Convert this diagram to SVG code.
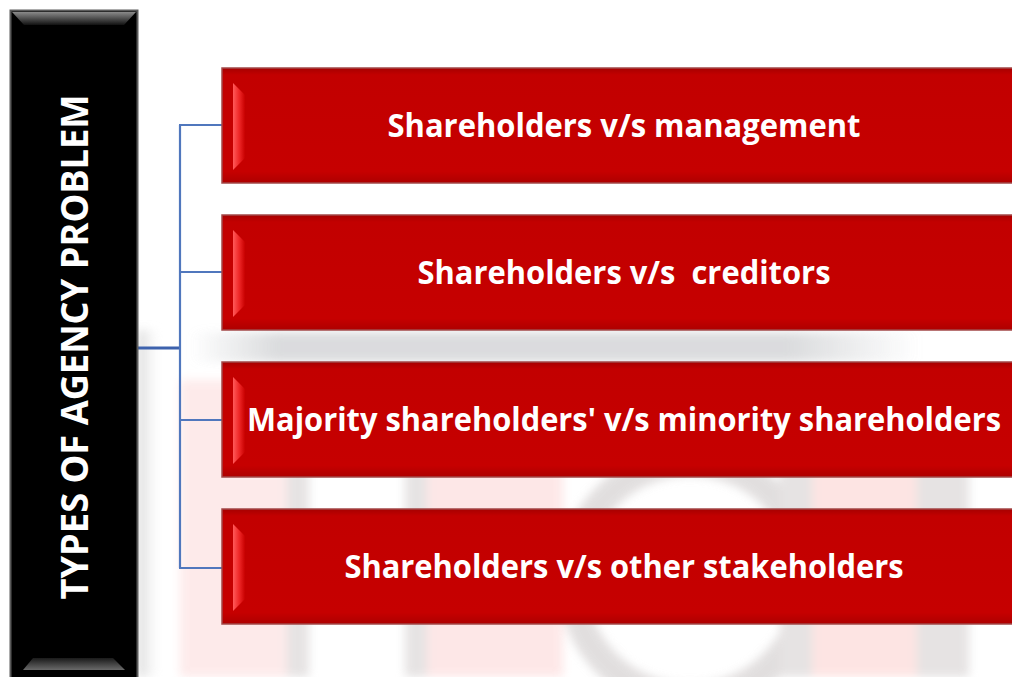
<svg xmlns="http://www.w3.org/2000/svg" width="1012" height="677" viewBox="0 0 1012 677">
  <defs>
    <style>
      .label { font-family: "Open Sans", "Liberation Sans", sans-serif; font-weight: 700; fill: #ffffff; text-anchor: middle; }
      .item { font-size: 33px; }
      .title { font-size: 38px; }
      .box { fill: url(#redFill); stroke: #a24848; stroke-width: 1.5; }
      .link { fill: none; stroke: #5077bd; stroke-width: 2.2; }
      .trunk { fill: none; stroke: #3d62ad; stroke-width: 3; }
    </style>
    <linearGradient id="redFill" x1="0" y1="0" x2="0" y2="1">
      <stop offset="0" stop-color="#a60000"/>
      <stop offset="0.06" stop-color="#c20000"/>
      <stop offset="0.9" stop-color="#c60000"/>
      <stop offset="1" stop-color="#ad0000"/>
    </linearGradient>
    <linearGradient id="bevelLeft" x1="0" y1="0" x2="1" y2="0">
      <stop offset="0" stop-color="#ff5a5a"/>
      <stop offset="0.5" stop-color="#f02828"/>
      <stop offset="1" stop-color="#c80000"/>
    </linearGradient>
    <linearGradient id="bevelTop" x1="0" y1="0" x2="0" y2="1">
      <stop offset="0" stop-color="#8a8a8a"/>
      <stop offset="1" stop-color="#111111"/>
    </linearGradient>
    <linearGradient id="bevelBottom" x1="0" y1="0" x2="0" y2="1">
      <stop offset="0" stop-color="#1a1a1a"/>
      <stop offset="1" stop-color="#6a6a6a"/>
    </linearGradient>
    <linearGradient id="shade" x1="0" y1="0" x2="1" y2="0">
      <stop offset="0" stop-color="#c8c8c8"/>
      <stop offset="1" stop-color="#ffffff" stop-opacity="0"/>
    </linearGradient>
    <linearGradient id="band" x1="0" y1="0" x2="1" y2="0">
      <stop offset="0" stop-color="#cfd0d3" stop-opacity="0"/>
      <stop offset="0.12" stop-color="#cfd0d3"/>
      <stop offset="0.82" stop-color="#cfd0d3"/>
      <stop offset="1" stop-color="#cfd0d3" stop-opacity="0"/>
    </linearGradient>
    <filter id="soft" x="-10%" y="-10%" width="120%" height="120%">
      <feGaussianBlur stdDeviation="5"/>
    </filter>
    <!-- one red item box with its left bevel highlight -->
    <g id="redBox">
      <rect class="box" x="0" y="0" width="800" height="115"/>
      <polygon points="11,15 23,27 23,90 11,102" fill="url(#bevelLeft)"/>
    </g>
  </defs>

  <rect width="1012" height="677" fill="#ffffff"/>

  <!-- faint background emblem -->
  <g id="emblem" filter="url(#soft)" opacity="0.75">
    <rect x="138" y="330" width="24" height="347" fill="url(#shade)"/>
    <rect x="190" y="332" width="730" height="30" fill="url(#band)"/>
    <rect x="180" y="380" width="107" height="297" fill="#fde4e4"/>
    <rect x="287" y="380" width="22" height="297" fill="#dedada"/>
    <rect x="405" y="380" width="22" height="297" fill="#dedada"/>
    <rect x="427" y="380" width="136" height="297" fill="#fde0e0"/>
    <circle cx="690" cy="580" r="118" fill="none" stroke="#d8d4d4" stroke-width="28"/>
    <rect x="780" y="380" width="32" height="297" fill="#dedada"/>
    <rect x="812" y="380" width="105" height="297" fill="#fddcda"/>
    <rect x="917" y="380" width="52" height="297" fill="#dedada"/>
  </g>

  <!-- connectors -->
  <g id="connectors">
    <path class="trunk" d="M138,348 H181"/>
    <path class="link" d="M180,125 V568"/>
    <path class="link" d="M179,125 H222"/>
    <path class="link" d="M179,272 H222"/>
    <path class="link" d="M179,420 H222"/>
    <path class="link" d="M179,568 H222"/>
  </g>

  <!-- vertical heading block -->
  <g id="heading">
    <rect x="10.5" y="10.5" width="127" height="680" fill="#000000" stroke="#5a5a5a" stroke-width="2"/>
    <polygon points="12,12 136,12 124,25 24,25" fill="url(#bevelTop)"/>
    <polygon points="33,658 113,658 125,670 23,670" fill="url(#bevelBottom)"/>
    <text class="label title" transform="translate(88,347) rotate(-90)" x="0" y="0" textLength="505" lengthAdjust="spacingAndGlyphs">TYPES OF AGENCY PROBLEM</text>
  </g>

  <g id="item1">
    <use href="#redBox" x="222" y="68"/>
    <text class="label item" x="624" y="137" textLength="473" lengthAdjust="spacingAndGlyphs">Shareholders v/s management</text>
  </g>
  <g id="item2">
    <use href="#redBox" x="222" y="215"/>
    <text class="label item" x="624" y="284" textLength="413" lengthAdjust="spacingAndGlyphs" xml:space="preserve">Shareholders v/s  creditors</text>
  </g>
  <g id="item3">
    <use href="#redBox" x="222" y="362"/>
    <text class="label item" x="624" y="431" textLength="754" lengthAdjust="spacingAndGlyphs">Majority shareholders' v/s minority shareholders</text>
  </g>
  <g id="item4">
    <use href="#redBox" x="222" y="509"/>
    <text class="label item" x="624" y="578" textLength="559" lengthAdjust="spacingAndGlyphs">Shareholders v/s other stakeholders</text>
  </g>
</svg>
